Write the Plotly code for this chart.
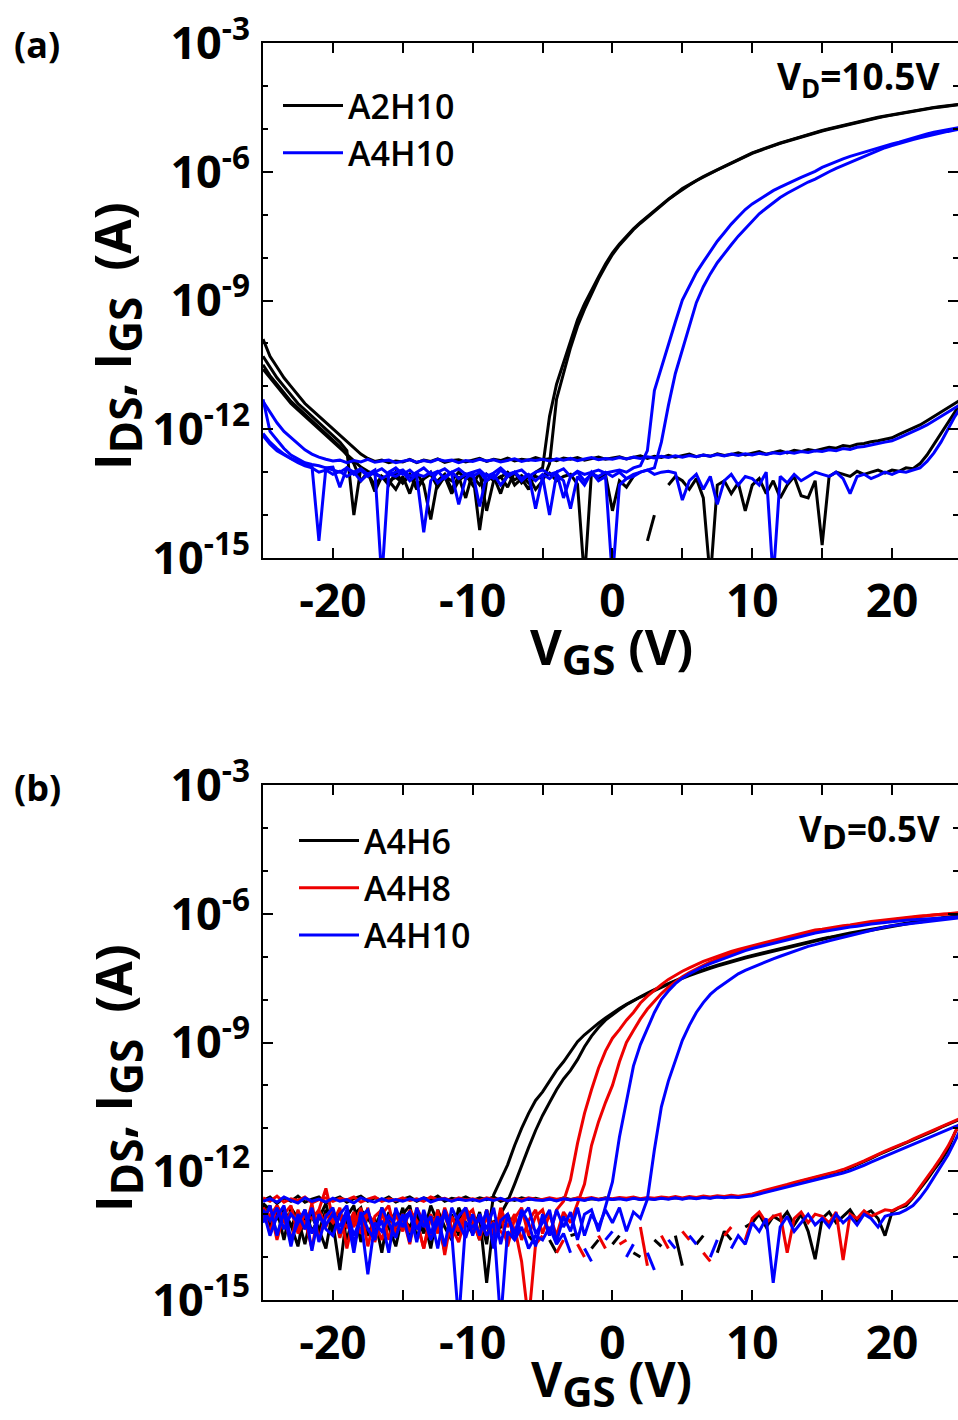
import plotly.graph_objects as go

# Gate-voltage sweep points (V)
VGS = [
 -25.0,-24.5,-24.0,-23.5,-23.0,-22.5,-22.0,-21.5,-21.0,-20.5,
 -20.0,-19.5,-19.0,-18.5,-18.0,-17.5,-17.0,-16.5,-16.0,-15.5,
 -15.0,-14.5,-14.0,-13.5,-13.0,-12.5,-12.0,-11.5,-11.0,-10.5,
 -10.0,-9.5,-9.0,-8.5,-8.0,-7.5,-7.0,-6.5,-6.0,-5.5,
 -5.0,-4.5,-4.0,-3.5,-3.0,-2.5,-2.0,-1.5,-1.0,-0.5,
 0.0,0.5,1.0,1.5,2.0,2.5,3.0,3.5,4.0,4.5,
 5.0,5.5,6.0,6.5,7.0,7.5,8.0,8.5,9.0,9.5,
 10.0,10.5,11.0,11.5,12.0,12.5,13.0,13.5,14.0,14.5,
 15.0,15.5,16.0,16.5,17.0,17.5,18.0,18.5,19.0,19.5,
 20.0,20.5,21.0,21.5,22.0,22.5,23.0,23.5,24.0,24.5,
 25.0]

# ---- Panel (a), VD = 10.5 V : values are log10 of current in A (None = negative / not plotted)
A2H10_IGS_UP = [
 -9.9,-10.3,-10.55,-10.8,-11.0,-11.2,-11.4,-11.55,-11.7,-11.85,
 -12.0,-12.15,-12.3,-12.45,-12.58,-12.68,-12.75,-12.72,-12.78,-12.74,
 -12.76,-12.70,-12.78,-12.72,-12.75,-12.69,-12.77,-12.73,-12.71,-12.76,
 -12.72,-12.68,-12.75,-12.70,-12.73,-12.67,-12.74,-12.70,-12.72,-12.66,
 -12.71,-12.69,-12.73,-12.67,-12.70,-12.66,-12.72,-12.68,-12.65,-12.70,
 -12.67,-12.64,-12.69,-12.66,-12.62,-12.68,-12.63,-12.66,-12.61,-12.65,
 -12.62,-12.58,-12.64,-12.60,-12.63,-12.57,-12.61,-12.59,-12.55,-12.60,
 -12.56,-12.52,-12.58,-12.54,-12.50,-12.55,-12.49,-12.52,-12.47,-12.50,
 -12.46,-12.42,-12.44,-12.38,-12.40,-12.35,-12.33,-12.29,-12.27,-12.23,
 -12.20,-12.12,-12.05,-11.98,-11.90,-11.80,-11.70,-11.60,-11.50,-11.40,
 -11.30]
A2H10_IGS_LOW = [
 -10.6,-10.8,-11.0,-11.2,-11.4,-11.55,-11.7,-11.85,-12.0,-12.15,
 -12.3,-12.45,-12.6,-12.75,-12.88,-12.98,-13.05,-13.1,-13.2,-13.12,
 -13.25,-13.08,-13.3,-13.15,-13.05,-13.35,-13.1,-13.2,-13.0,-13.15,
 -13.1,-13.3,-13.05,-13.2,-13.12,-13.0,-13.18,-13.08,-13.25,-13.1,
 -13.15,-13.02,-13.2,-13.1,-13.05,-13.28,-15.5,-13.0,-13.15,-13.05,
 -13.9,-13.2,-13.35,-13.1,None,-14.6,-14.0,None,-13.3,-13.1,
 -13.2,-13.4,-13.15,-13.6,-15.5,-13.3,-13.2,-13.5,-13.25,-13.9,
 -13.3,-13.15,-13.5,-13.2,-13.6,-13.3,-13.1,-13.55,-13.6,-13.2,
 -14.7,-13.1,-13.0,-13.05,-13.1,-12.98,-13.05,-13.0,-12.95,-13.02,
 -12.95,-12.98,-12.9,-12.92,-12.8,-12.6,-12.35,-12.1,-11.85,-11.6,
 -11.35]
A2H10_IDS_F = [
 -10.3,-10.55,-10.8,-11.0,-11.2,-11.4,-11.55,-11.7,-11.85,-12.0,
 -12.15,-12.3,-12.5,-14.0,-12.9,-13.05,-13.3,-13.1,-13.2,-13.4,
 -13.1,-13.5,-13.0,-13.3,-14.1,-13.2,-13.05,-13.4,-13.1,-13.6,
 -13.0,-14.35,-13.2,-13.1,-13.5,-13.0,-13.3,-13.15,-13.4,-13.0,
 -12.9,-11.7,-10.95,-10.45,-9.9,-9.45,-9.08,-8.75,-8.45,-8.15,
 -7.89,-7.68,-7.5,-7.33,-7.18,-7.04,-6.9,-6.77,-6.64,-6.52,
 -6.39,-6.3,-6.2,-6.11,-6.03,-5.95,-5.87,-5.79,-5.72,-5.64,
 -5.56,-5.5,-5.44,-5.39,-5.33,-5.28,-5.23,-5.18,-5.13,-5.08,
 -5.04,-5.0,-4.96,-4.92,-4.88,-4.84,-4.8,-4.76,-4.73,-4.7,
 -4.67,-4.64,-4.61,-4.58,-4.56,-4.53,-4.5,-4.48,-4.46,-4.44,
 -4.42]
A2H10_IDS_R = [
 -10.5,-10.75,-10.95,-11.15,-11.35,-11.5,-11.65,-11.8,-11.95,-12.1,
 -12.25,-12.4,-12.6,-12.8,-13.2,-13.0,-13.45,-13.1,-13.3,-13.0,
 -13.25,-13.05,-13.4,-13.15,-13.0,-13.3,-13.1,-13.5,-13.2,-13.05,
 -13.3,-13.0,-13.9,-13.2,-13.1,-13.35,-13.0,-13.25,-13.1,-13.4,
 -13.2,-12.8,-11.3,-10.7,-10.1,-9.6,-9.2,-8.85,-8.5,-8.2,
 -7.93,-7.71,-7.52,-7.35,-7.2,-7.06,-6.92,-6.78,-6.65,-6.53,
 -6.41,-6.31,-6.21,-6.12,-6.04,-5.96,-5.88,-5.8,-5.73,-5.65,
 -5.57,-5.51,-5.45,-5.4,-5.34,-5.29,-5.24,-5.19,-5.14,-5.09,
 -5.05,-5.01,-4.97,-4.93,-4.89,-4.85,-4.81,-4.77,-4.74,-4.71,
 -4.68,-4.65,-4.62,-4.59,-4.57,-4.54,-4.51,-4.49,-4.47,-4.45,
 -4.43]
A4H10A_IGS_UP = [
 -11.35,-11.6,-11.85,-12.05,-12.2,-12.35,-12.48,-12.58,-12.65,-12.7,
 -12.74,-12.72,-12.78,-12.73,-12.76,-12.7,-12.77,-12.74,-12.72,-12.78,
 -12.75,-12.71,-12.77,-12.73,-12.76,-12.7,-12.74,-12.72,-12.78,-12.73,
 -12.75,-12.7,-12.74,-12.71,-12.76,-12.72,-12.69,-12.75,-12.71,-12.73,
 -12.7,-12.74,-12.69,-12.72,-12.68,-12.73,-12.7,-12.66,-12.71,-12.68,
 -12.7,-12.66,-12.69,-12.65,-12.68,-12.64,-12.67,-12.63,-12.66,-12.62,
 -12.65,-12.61,-12.64,-12.6,-12.63,-12.59,-12.62,-12.58,-12.61,-12.57,
 -12.6,-12.56,-12.59,-12.55,-12.57,-12.53,-12.56,-12.52,-12.54,-12.5,
 -12.52,-12.48,-12.5,-12.45,-12.47,-12.42,-12.4,-12.36,-12.33,-12.3,
 -12.27,-12.2,-12.13,-12.06,-11.98,-11.9,-11.8,-11.7,-11.6,-11.5,
 -11.4]
A4H10A_IGS_LOW = [
 -12.1,-12.3,-12.45,-12.58,-12.68,-12.75,-12.8,-12.85,-14.6,-12.9,
 -12.88,-13.35,-12.9,-13.0,-12.92,-13.05,-12.95,-15.5,-13.0,-12.9,
 -13.05,-12.95,-13.1,-14.4,-13.2,-13.0,-12.92,-13.05,-13.75,-13.15,
 -13.0,-13.8,-13.05,-13.15,-12.95,-13.1,-13.0,-13.2,-13.05,-13.85,
 -13.1,-14.0,-13.05,-13.2,-13.85,-13.1,-13.3,-13.0,-13.2,-13.1,
 -15.5,-13.3,-13.15,-13.1,-13.0,-12.95,-13.05,-13.0,-12.98,-13.02,
 -13.65,-13.2,-13.05,-13.4,-13.1,-13.75,-13.2,-13.05,-13.3,-13.1,
 -13.15,-13.3,-13.0,-15.5,-13.1,-13.25,-13.05,-13.2,-13.1,-13.0,
 -13.05,-13.1,-13.0,-13.15,-13.5,-13.1,-13.05,-13.15,-13.08,-13.0,
 -13.05,-12.98,-13.0,-12.95,-12.9,-12.75,-12.55,-12.3,-12.0,-11.7,
 -11.45]
A4H10A_IDS_F = [
 -11.3,-12.05,-12.25,-12.45,-12.6,-12.7,-12.78,-12.82,-12.85,-12.9,
 -12.95,-13.0,-12.9,-13.05,-12.95,-13.1,-13.0,-12.92,-13.05,-13.0,
 -12.95,-13.1,-13.0,-12.9,-13.05,-12.98,-13.15,-13.0,-12.92,-13.05,
 -13.0,-12.95,-13.1,-13.02,-12.9,-13.05,-13.0,-12.95,-13.1,-13.0,
 -12.95,-13.05,-13.0,-12.92,-13.1,-12.98,-13.05,-13.0,-12.95,-13.02,
 -12.98,-12.95,-13.0,-12.9,-12.85,-12.5,-11.1,-10.55,-10.0,-9.5,
 -8.99,-8.65,-8.35,-8.1,-7.85,-7.62,-7.42,-7.22,-7.05,-6.88,
 -6.75,-6.64,-6.54,-6.44,-6.36,-6.28,-6.2,-6.13,-6.06,-5.99,
 -5.9,-5.83,-5.76,-5.7,-5.64,-5.59,-5.54,-5.49,-5.44,-5.4,
 -5.35,-5.31,-5.26,-5.21,-5.16,-5.12,-5.08,-5.05,-5.02,-4.99,
 -4.96]
A4H10A_IDS_R = [
 -12.15,-12.35,-12.5,-12.6,-12.7,-12.78,-12.85,-12.9,-13.0,-12.95,
 -13.05,-12.98,-13.1,-13.0,-13.2,-13.05,-13.0,-13.15,-13.05,-13.1,
 -13.0,-13.2,-13.05,-13.1,-13.0,-13.25,-13.1,-13.0,-13.15,-13.05,
 -13.1,-13.0,-13.2,-13.05,-13.3,-13.1,-13.0,-13.15,-13.05,-13.2,
 -13.05,-13.15,-13.0,-13.6,-13.1,-13.0,-13.2,-13.05,-13.1,-13.0,
 -13.1,-13.0,-13.15,-13.05,-13.0,-12.95,-12.9,-12.3,-11.45,-10.7,
 -10.15,-9.6,-9.05,-8.68,-8.38,-8.12,-7.9,-7.7,-7.5,-7.33,
 -7.15,-6.98,-6.85,-6.72,-6.6,-6.5,-6.41,-6.32,-6.24,-6.17,
 -6.08,-6.0,-5.92,-5.85,-5.78,-5.71,-5.64,-5.57,-5.5,-5.44,
 -5.39,-5.34,-5.29,-5.25,-5.21,-5.17,-5.13,-5.09,-5.06,-5.03,
 -5.0]

# ---- Panel (b), VD = 0.5 V
A4H6_IDS_1 = [
 -12.75,-13.3,-12.9,-13.6,-12.85,-13.1,-13.7,-12.95,-13.35,-13.8,
 -12.9,-13.5,-13.05,-12.8,-13.65,-13.0,-13.4,-12.85,-13.3,-13.75,
 -13.0,-12.8,-13.55,-13.1,-13.8,-12.9,-13.3,-13.6,-12.85,-13.2,
 -13.45,-12.95,-13.7,-12.55,-12.2,-11.85,-11.4,-11.0,-10.65,-10.35,
 -10.15,-9.9,-9.65,-9.45,-9.2,-8.98,-8.82,-8.68,-8.55,-8.43,
 -8.31,-8.21,-8.11,-8.02,-7.93,-7.85,-7.77,-7.7,-7.62,-7.55,
 -7.48,-7.42,-7.36,-7.3,-7.25,-7.2,-7.15,-7.1,-7.05,-7.01,
 -6.97,-6.93,-6.89,-6.85,-6.81,-6.77,-6.73,-6.69,-6.65,-6.61,
 -6.58,-6.55,-6.51,-6.48,-6.45,-6.42,-6.39,-6.36,-6.33,-6.3,
 -6.27,-6.25,-6.22,-6.2,-6.17,-6.15,-6.12,-6.1,-6.07,-6.05,
 -6.03]
A4H6_IDS_2 = [
 -13.1,-12.8,-13.5,-12.95,-13.25,-13.75,-12.9,-13.4,-13.1,-12.75,
 -13.45,-12.9,-13.6,-13.0,-12.85,-13.5,-13.1,-13.9,-12.95,-13.35,
 -12.85,-13.6,-13.05,-13.45,-12.8,-13.2,-13.85,-13.0,-13.5,-12.9,
 -13.1,-13.6,-12.9,-13.4,-13.0,-12.7,-12.3,-11.85,-11.45,-11.05,
 -10.7,-10.4,-10.1,-9.85,-9.65,-9.4,-9.1,-8.85,-8.65,-8.48,
 -8.35,-8.23,-8.12,-8.03,-7.94,-7.87,-7.79,-7.72,-7.64,-7.57,
 -7.5,-7.44,-7.38,-7.32,-7.27,-7.22,-7.17,-7.12,-7.07,-7.03,
 -6.99,-6.95,-6.91,-6.87,-6.83,-6.79,-6.75,-6.71,-6.67,-6.63,
 -6.6,-6.56,-6.53,-6.5,-6.47,-6.44,-6.41,-6.38,-6.35,-6.32,
 -6.29,-6.26,-6.24,-6.21,-6.19,-6.16,-6.14,-6.11,-6.09,-6.06,
 -6.04]
A4H8_IDS_1 = [
 -12.85,-13.45,-12.8,-13.1,-13.65,-12.9,-13.35,-12.75,-13.6,-13.0,
 -13.2,-12.85,-13.8,-13.05,-13.4,-12.85,-13.65,-13.0,-12.8,-13.5,
 -13.05,-13.7,-12.85,-13.2,-13.55,-12.9,-13.95,-13.05,-13.4,-12.85,
 -13.15,-13.6,-12.9,-13.45,-13.0,-13.75,-13.1,-12.85,-13.5,-13.05,
 -12.9,-13.5,-12.9,-12.7,-12.2,-11.35,-10.65,-10.1,-9.6,-9.2,
 -8.9,-8.7,-8.48,-8.3,-8.08,-7.92,-7.78,-7.65,-7.53,-7.43,
 -7.34,-7.26,-7.18,-7.11,-7.05,-6.99,-6.93,-6.88,-6.83,-6.79,
 -6.74,-6.7,-6.66,-6.62,-6.58,-6.54,-6.5,-6.46,-6.42,-6.38,
 -6.36,-6.33,-6.31,-6.28,-6.26,-6.23,-6.21,-6.18,-6.16,-6.14,
 -6.12,-6.1,-6.08,-6.07,-6.05,-6.04,-6.02,-6.01,-6.0,-5.98,
 -5.97]
A4H8_IDS_2 = [
 -13.1,-12.85,-13.6,-13.0,-12.8,-13.45,-13.15,-13.8,-12.9,-13.3,
 -12.9,-13.55,-13.0,-13.3,-12.85,-13.75,-13.05,-12.9,-13.6,-13.0,
 -13.4,-12.9,-13.15,-13.8,-13.0,-13.45,-12.85,-13.3,-13.65,-13.05,
 -12.9,-13.5,-13.05,-13.7,-12.85,-13.3,-13.0,-13.6,-13.15,-12.9,
 -13.45,-13.0,-13.5,-12.95,-13.2,-12.75,-12.3,-11.4,-10.85,-10.4,
 -10.0,-9.45,-9.0,-8.72,-8.45,-8.22,-8.03,-7.86,-7.71,-7.58,
 -7.47,-7.37,-7.28,-7.2,-7.12,-7.05,-6.99,-6.93,-6.88,-6.83,
 -6.78,-6.74,-6.7,-6.66,-6.62,-6.58,-6.54,-6.5,-6.46,-6.42,
 -6.39,-6.36,-6.33,-6.3,-6.28,-6.25,-6.23,-6.2,-6.18,-6.16,
 -6.14,-6.12,-6.1,-6.08,-6.07,-6.05,-6.03,-6.02,-6.01,-5.99,
 -5.98]
A4H10B_IDS_1 = [
 -13.2,-12.8,-13.5,-12.95,-13.75,-13.0,-13.35,-12.85,-13.65,-13.05,
 -12.85,-13.45,-13.0,-13.9,-12.95,-13.35,-13.6,-12.85,-13.2,-13.55,
 -13.0,-13.65,-12.85,-13.3,-13.05,-13.8,-12.9,-13.45,-13.05,-12.85,
 -13.5,-13.0,-13.35,-12.85,-13.7,-13.05,-13.45,-12.9,-13.2,-13.75,
 -13.0,-13.5,-12.9,-13.3,-12.95,-13.6,-13.0,-12.9,-13.4,-12.85,
 -12.25,-11.2,-10.4,-9.55,-9.05,-8.67,-8.3,-8.0,-7.8,-7.63,
 -7.5,-7.4,-7.31,-7.23,-7.16,-7.1,-7.03,-6.97,-6.91,-6.86,
 -6.81,-6.77,-6.72,-6.68,-6.64,-6.6,-6.56,-6.52,-6.48,-6.45,
 -6.42,-6.39,-6.36,-6.34,-6.31,-6.29,-6.26,-6.24,-6.22,-6.2,
 -6.18,-6.17,-6.15,-6.14,-6.13,-6.12,-6.11,-6.1,-6.09,-6.08,
 -6.07]
A4H10B_IDS_2 = [
 -12.9,-13.5,-13.05,-12.8,-13.6,-13.2,-12.9,-13.85,-13.0,-13.35,
 -13.5,-13.0,-12.8,-13.7,-13.05,-12.9,-13.45,-13.15,-13.9,-12.85,
 -13.3,-12.95,-13.65,-12.9,-13.45,-13.05,-13.75,-12.85,-13.2,-13.55,
 -13.0,-13.5,-12.9,-13.8,-13.15,-13.0,-13.6,-13.05,-12.85,-13.45,
 -13.2,-12.9,-13.65,-13.05,-13.4,-12.85,-13.5,-13.0,-13.3,-12.9,
 -13.2,-12.85,-13.4,-12.95,-13.1,-12.65,-11.5,-10.5,-9.9,-9.4,
 -8.95,-8.6,-8.3,-8.07,-7.88,-7.74,-7.62,-7.5,-7.4,-7.32,
 -7.25,-7.18,-7.11,-7.05,-6.99,-6.93,-6.87,-6.82,-6.76,-6.72,
 -6.67,-6.63,-6.59,-6.55,-6.51,-6.47,-6.43,-6.39,-6.34,-6.31,
 -6.28,-6.26,-6.24,-6.22,-6.2,-6.18,-6.16,-6.14,-6.12,-6.1,
 -6.09]
A4H6_IGS_UP = [
 -12.68,-12.6,-12.75,-12.62,-12.7,-12.58,-12.72,-12.65,-12.6,-12.74,
 -12.66,-12.6,-12.72,-12.64,-12.58,-12.7,-12.62,-12.68,-12.6,-12.72,
 -12.65,-12.6,-12.7,-12.62,-12.67,-12.58,-12.7,-12.63,-12.66,-12.6,
 -12.68,-12.62,-12.66,-12.6,-12.7,-12.64,-12.68,-12.62,-12.66,-12.63,
 -12.67,-12.64,-12.68,-12.62,-12.66,-12.63,-12.67,-12.64,-12.66,-12.62,
 -12.66,-12.63,-12.65,-12.62,-12.66,-12.63,-12.65,-12.61,-12.64,-12.62,
 -12.64,-12.61,-12.63,-12.6,-12.62,-12.59,-12.61,-12.58,-12.6,-12.57,
 -12.55,-12.5,-12.45,-12.41,-12.37,-12.32,-12.27,-12.23,-12.19,-12.15,
 -12.11,-12.07,-12.03,-11.98,-11.92,-11.85,-11.78,-11.7,-11.62,-11.55,
 -11.48,-11.42,-11.35,-11.27,-11.2,-11.13,-11.06,-10.98,-10.91,-10.84,
 -10.77]
A4H8_IGS_UP = [
 -12.62,-12.7,-12.58,-12.72,-12.64,-12.68,-12.6,-12.74,-12.66,-12.62,
 -12.7,-12.63,-12.67,-12.6,-12.72,-12.65,-12.6,-12.7,-12.64,-12.68,
 -12.62,-12.68,-12.64,-12.7,-12.6,-12.66,-12.63,-12.69,-12.62,-12.67,
 -12.64,-12.68,-12.62,-12.66,-12.64,-12.69,-12.63,-12.67,-12.62,-12.65,
 -12.66,-12.62,-12.65,-12.63,-12.67,-12.62,-12.64,-12.61,-12.65,-12.63,
 -12.64,-12.61,-12.63,-12.6,-12.64,-12.61,-12.63,-12.6,-12.62,-12.59,
 -12.62,-12.59,-12.61,-12.58,-12.6,-12.57,-12.59,-12.56,-12.58,-12.55,
 -12.53,-12.48,-12.44,-12.4,-12.35,-12.31,-12.26,-12.22,-12.18,-12.14,
 -12.1,-12.06,-12.01,-11.96,-11.9,-11.83,-11.76,-11.68,-11.6,-11.53,
 -11.46,-11.4,-11.33,-11.25,-11.18,-11.11,-11.04,-10.96,-10.89,-10.82,
 -10.75]
A4H10B_IGS_UP = [
 -12.7,-12.64,-12.72,-12.6,-12.68,-12.74,-12.62,-12.7,-12.65,-12.72,
 -12.63,-12.7,-12.66,-12.74,-12.62,-12.68,-12.72,-12.64,-12.7,-12.66,
 -12.7,-12.64,-12.68,-12.62,-12.72,-12.66,-12.64,-12.7,-12.65,-12.68,
 -12.66,-12.7,-12.64,-12.68,-12.63,-12.69,-12.65,-12.7,-12.64,-12.67,
 -12.68,-12.65,-12.69,-12.64,-12.67,-12.65,-12.68,-12.63,-12.67,-12.64,
 -12.66,-12.64,-12.67,-12.63,-12.66,-12.64,-12.66,-12.63,-12.65,-12.62,
 -12.65,-12.62,-12.64,-12.61,-12.63,-12.6,-12.62,-12.6,-12.61,-12.59,
 -12.57,-12.53,-12.49,-12.45,-12.41,-12.37,-12.33,-12.29,-12.25,-12.21,
 -12.17,-12.13,-12.09,-12.04,-11.99,-11.93,-11.86,-11.79,-11.72,-11.65,
 -11.58,-11.52,-11.45,-11.38,-11.31,-11.24,-11.17,-11.1,-11.03,-10.96,
 -10.9]
A4H6_IGS_LOW = [
 -12.75,-12.9,-13.1,-12.85,-13.3,-12.95,-13.15,-13.05,-13.4,-12.9,
 -13.2,-14.3,-13.0,-13.25,-12.9,-13.1,-13.35,-13.0,-13.2,-12.95,
 -13.1,-13.3,-12.95,-13.4,-13.05,-13.2,-13.0,-13.5,-13.1,-12.95,
 -13.2,-13.05,-14.6,-13.15,-13.3,-13.0,-13.4,None,-13.5,-13.7,
 None,-13.6,-13.9,None,-13.5,-13.45,None,-13.8,-13.6,None,
 -13.7,-13.5,None,-13.9,-14.0,None,-13.6,-13.75,None,-13.5,
 -14.2,None,-13.7,-13.5,None,-13.9,-13.4,-13.6,None,-13.3,
 -13.2,-13.0,-13.3,-13.05,-13.15,-12.95,-13.25,-13.0,-13.4,-14.05,
 -13.1,-12.95,-13.2,-13.05,-12.9,-13.15,-13.0,-12.92,-13.1,-13.5,
 -12.95,-12.85,-12.8,-12.62,-12.42,-12.2,-11.97,-11.75,-11.5,-11.1,
 -10.8]
A4H8_IGS_LOW = [
 -12.85,-13.05,-12.8,-13.2,-12.95,-13.35,-13.0,-13.1,-12.9,-12.4,
 -13.1,-13.1,-13.3,-12.95,-13.45,-13.0,-13.2,-13.6,-13.05,-13.3,
 -13.0,-13.4,-13.15,-13.8,-13.05,-13.3,-13.0,-13.55,-13.2,-13.0,
 -13.35,-13.1,-13.5,-13.2,-13.4,-13.6,-13.3,-14.1,-15.5,-13.7,
 -13.5,None,-13.9,-13.6,None,-13.7,-14.0,None,-13.5,-13.8,
 None,-13.7,-13.6,None,-13.3,-14.2,None,-13.5,-13.8,None,
 -13.4,-13.6,None,-13.9,-14.1,None,-13.5,-13.3,None,-13.6,
 -13.1,-12.95,-13.2,-13.05,-13.0,-13.9,-13.1,-12.95,-13.2,-13.0,
 -13.05,-13.2,-12.95,-14.07,-13.0,-13.1,-12.92,-13.05,-12.98,-12.9,
 -12.92,-12.84,-12.76,-12.6,-12.38,-12.15,-11.92,-11.68,-11.42,-11.1,
 -10.78]
A4H10B_IGS_LOW = [
 -12.9,-13.15,-12.85,-13.35,-13.0,-13.2,-12.9,-13.45,-13.05,-13.25,
 -13.0,-13.3,-12.9,-13.5,-13.1,-14.4,-13.2,-13.4,-13.05,-13.25,
 -13.1,-12.95,-13.35,-13.05,-13.6,-13.2,-13.0,-13.45,-15.5,-13.2,
 -13.3,-13.1,-13.5,-13.2,-15.5,-13.4,-13.6,-13.3,-13.8,-13.5,
 -13.6,-13.3,-13.7,-13.45,-13.9,None,-13.8,-14.1,None,-13.6,
 -13.4,None,-14.0,-13.7,None,-13.9,-14.3,None,-13.6,-13.8,
 None,-13.5,-13.7,None,-14.0,-13.6,None,-13.8,-13.5,-13.7,
 -13.2,-13.4,-13.1,-14.6,-13.3,-13.05,-13.4,-13.2,-13.0,-13.25,
 -13.1,-13.3,-13.0,-13.2,-13.05,-13.25,-13.0,-13.1,-13.3,-13.05,
 -13.0,-12.98,-12.9,-12.8,-12.62,-12.4,-12.15,-11.9,-11.62,-11.3,
 -10.95]

Y_TICKS = [1e-15, 1e-12, 1e-9, 1e-6, 1e-3]
Y_TICKTEXT = ["10<sup>-15</sup>", "10<sup>-12</sup>", "10<sup>-9</sup>", "10<sup>-6</sup>", "10<sup>-3</sup>"]
Y_MINOR = [1e-14, 1e-13, 1e-11, 1e-10, 1e-8, 1e-7, 1e-5, 1e-4]
X_TICKS = [-20, -10, 0, 10, 20]
X_TICKTEXT = ["-20", "-10", "0", "10", "20"]
X_MINOR = [-15, -5, 5, 15]

BLACK, BLUE, RED = "#000000", "#0000ff", "#ee0000"
FONT = "Open Sans"


def amps(logs):
    return [None if v is None else 10 ** v for v in logs]


fig = go.Figure()

panel_a = [
    ("A2H10", BLACK, [A2H10_IGS_UP, A2H10_IGS_LOW, A2H10_IDS_F, A2H10_IDS_R]),
    ("A4H10", BLUE, [A4H10A_IGS_UP, A4H10A_IGS_LOW, A4H10A_IDS_F, A4H10A_IDS_R]),
]
panel_b = [
    ("A4H6", BLACK, [A4H6_IGS_UP, A4H6_IGS_LOW, A4H6_IDS_1, A4H6_IDS_2]),
    ("A4H8", RED, [A4H8_IGS_UP, A4H8_IGS_LOW, A4H8_IDS_1, A4H8_IDS_2]),
    ("A4H10", BLUE, [A4H10B_IGS_UP, A4H10B_IGS_LOW, A4H10B_IDS_1, A4H10B_IDS_2]),
]

for (series, xa, ya, leg) in [(panel_a, "x", "y", "legend"), (panel_b, "x2", "y2", "legend2")]:
    for name, color, curves in series:
        for k, c in enumerate(curves):
            fig.add_trace(go.Scatter(
                x=VGS, y=amps(c), mode="lines", name=name,
                legendgroup=leg + name, showlegend=(k == 0), legend=leg,
                line=dict(color=color, width=3), connectgaps=False,
                xaxis=xa, yaxis=ya, hoverinfo="skip"))

axis_common = dict(
    showline=True, linecolor="black", linewidth=2, mirror="ticks",
    ticks="inside", ticklen=10, tickwidth=2, tickcolor="black",
    showgrid=False, zeroline=False,
)
xcommon = dict(axis_common, range=[-25, 24.72], tickmode="array", tickvals=X_TICKS,
               ticktext=X_TICKTEXT, ticklabelstandoff=2,
               tickfont=dict(family=FONT, size=46, color="black", weight="bold"),
               minor=dict(tickmode="array", tickvals=X_MINOR, ticks="inside",
                          ticklen=10, tickwidth=2, tickcolor="black", showgrid=False))
ycommon = dict(axis_common, type="log", range=[-15, -3], tickmode="array",
               tickvals=Y_TICKS, ticktext=Y_TICKTEXT, ticklabelstandoff=2,
               tickfont=dict(family=FONT, size=45, color="black", weight="bold"),
               minor=dict(tickmode="array", tickvals=Y_MINOR, ticks="inside",
                          ticklen=5, tickwidth=2, tickcolor="black", showgrid=False))

H = 1257.0
def py(p):  # pixel row -> paper y
    return (1300 - p) / H
def px(p):  # pixel column -> paper x
    return (p - 263) / 695.0

legend_common = dict(xanchor="left", yanchor="top", bgcolor="rgba(0,0,0,0)",
                     borderwidth=0, itemwidth=60, tracegroupgap=0,
                     font=dict(family=FONT, size=34, color="black", weight=600))

fig.update_layout(
    width=958, height=1420,
    margin=dict(l=263, r=0, t=43, b=120, autoexpand=False),
    paper_bgcolor="white", plot_bgcolor="white",
    xaxis=dict(xcommon, domain=[0, 1], anchor="y"),
    yaxis=dict(ycommon, domain=[py(558), 1], anchor="x"),
    xaxis2=dict(xcommon, domain=[0, 1], anchor="y2"),
    yaxis2=dict(ycommon, domain=[0, py(785)], anchor="x2"),
    legend=dict(legend_common, x=px(278), y=py(77)),
    legend2=dict(legend_common, x=px(294), y=py(812)),
    showlegend=True,
)

ann_font = dict(family=FONT, color="black", weight="bold")
YTITLE = ("I<sub><span style='font-size:44px'>DS</span></sub>, "
          "I<sub><span style='font-size:44px'>GS</span></sub>  (A)")
XTITLE = "V<sub><span style='font-size:42px'>GS</span></sub> (V)"
annotations = [
    dict(text="(a)", x=px(37), y=py(44), font=dict(ann_font, size=36)),
    dict(text="(b)", x=px(37), y=py(787), font=dict(ann_font, size=36)),
    dict(text="V<sub>D</sub>=10.5V", x=px(942), y=py(78), xanchor="right",
         font=dict(ann_font, size=37)),
    dict(text="V<sub><span style='font-size:34px'>D</span></sub>=0.5V", x=px(942), y=py(832),
         xanchor="right", font=dict(ann_font, size=35)),
    dict(text=YTITLE, x=px(117), y=py(336), textangle=-90, font=dict(ann_font, size=50)),
    dict(text=YTITLE, x=px(117), y=py(1078), textangle=-90, font=dict(ann_font, size=50)),
    dict(text=XTITLE, x=px(611), y=py(650), font=dict(ann_font, size=49)),
    dict(text=XTITLE, x=px(611), y=py(1382), font=dict(ann_font, size=48)),
]
for a in annotations:
    a.setdefault("xanchor", "center")
    fig.add_annotation(xref="paper", yref="paper", showarrow=False, yanchor="middle", **a)

fig.write_html("out.html", config={"displayModeBar": False},
               post_script="document.body.style.margin='0';document.body.style.overflow='hidden';")
